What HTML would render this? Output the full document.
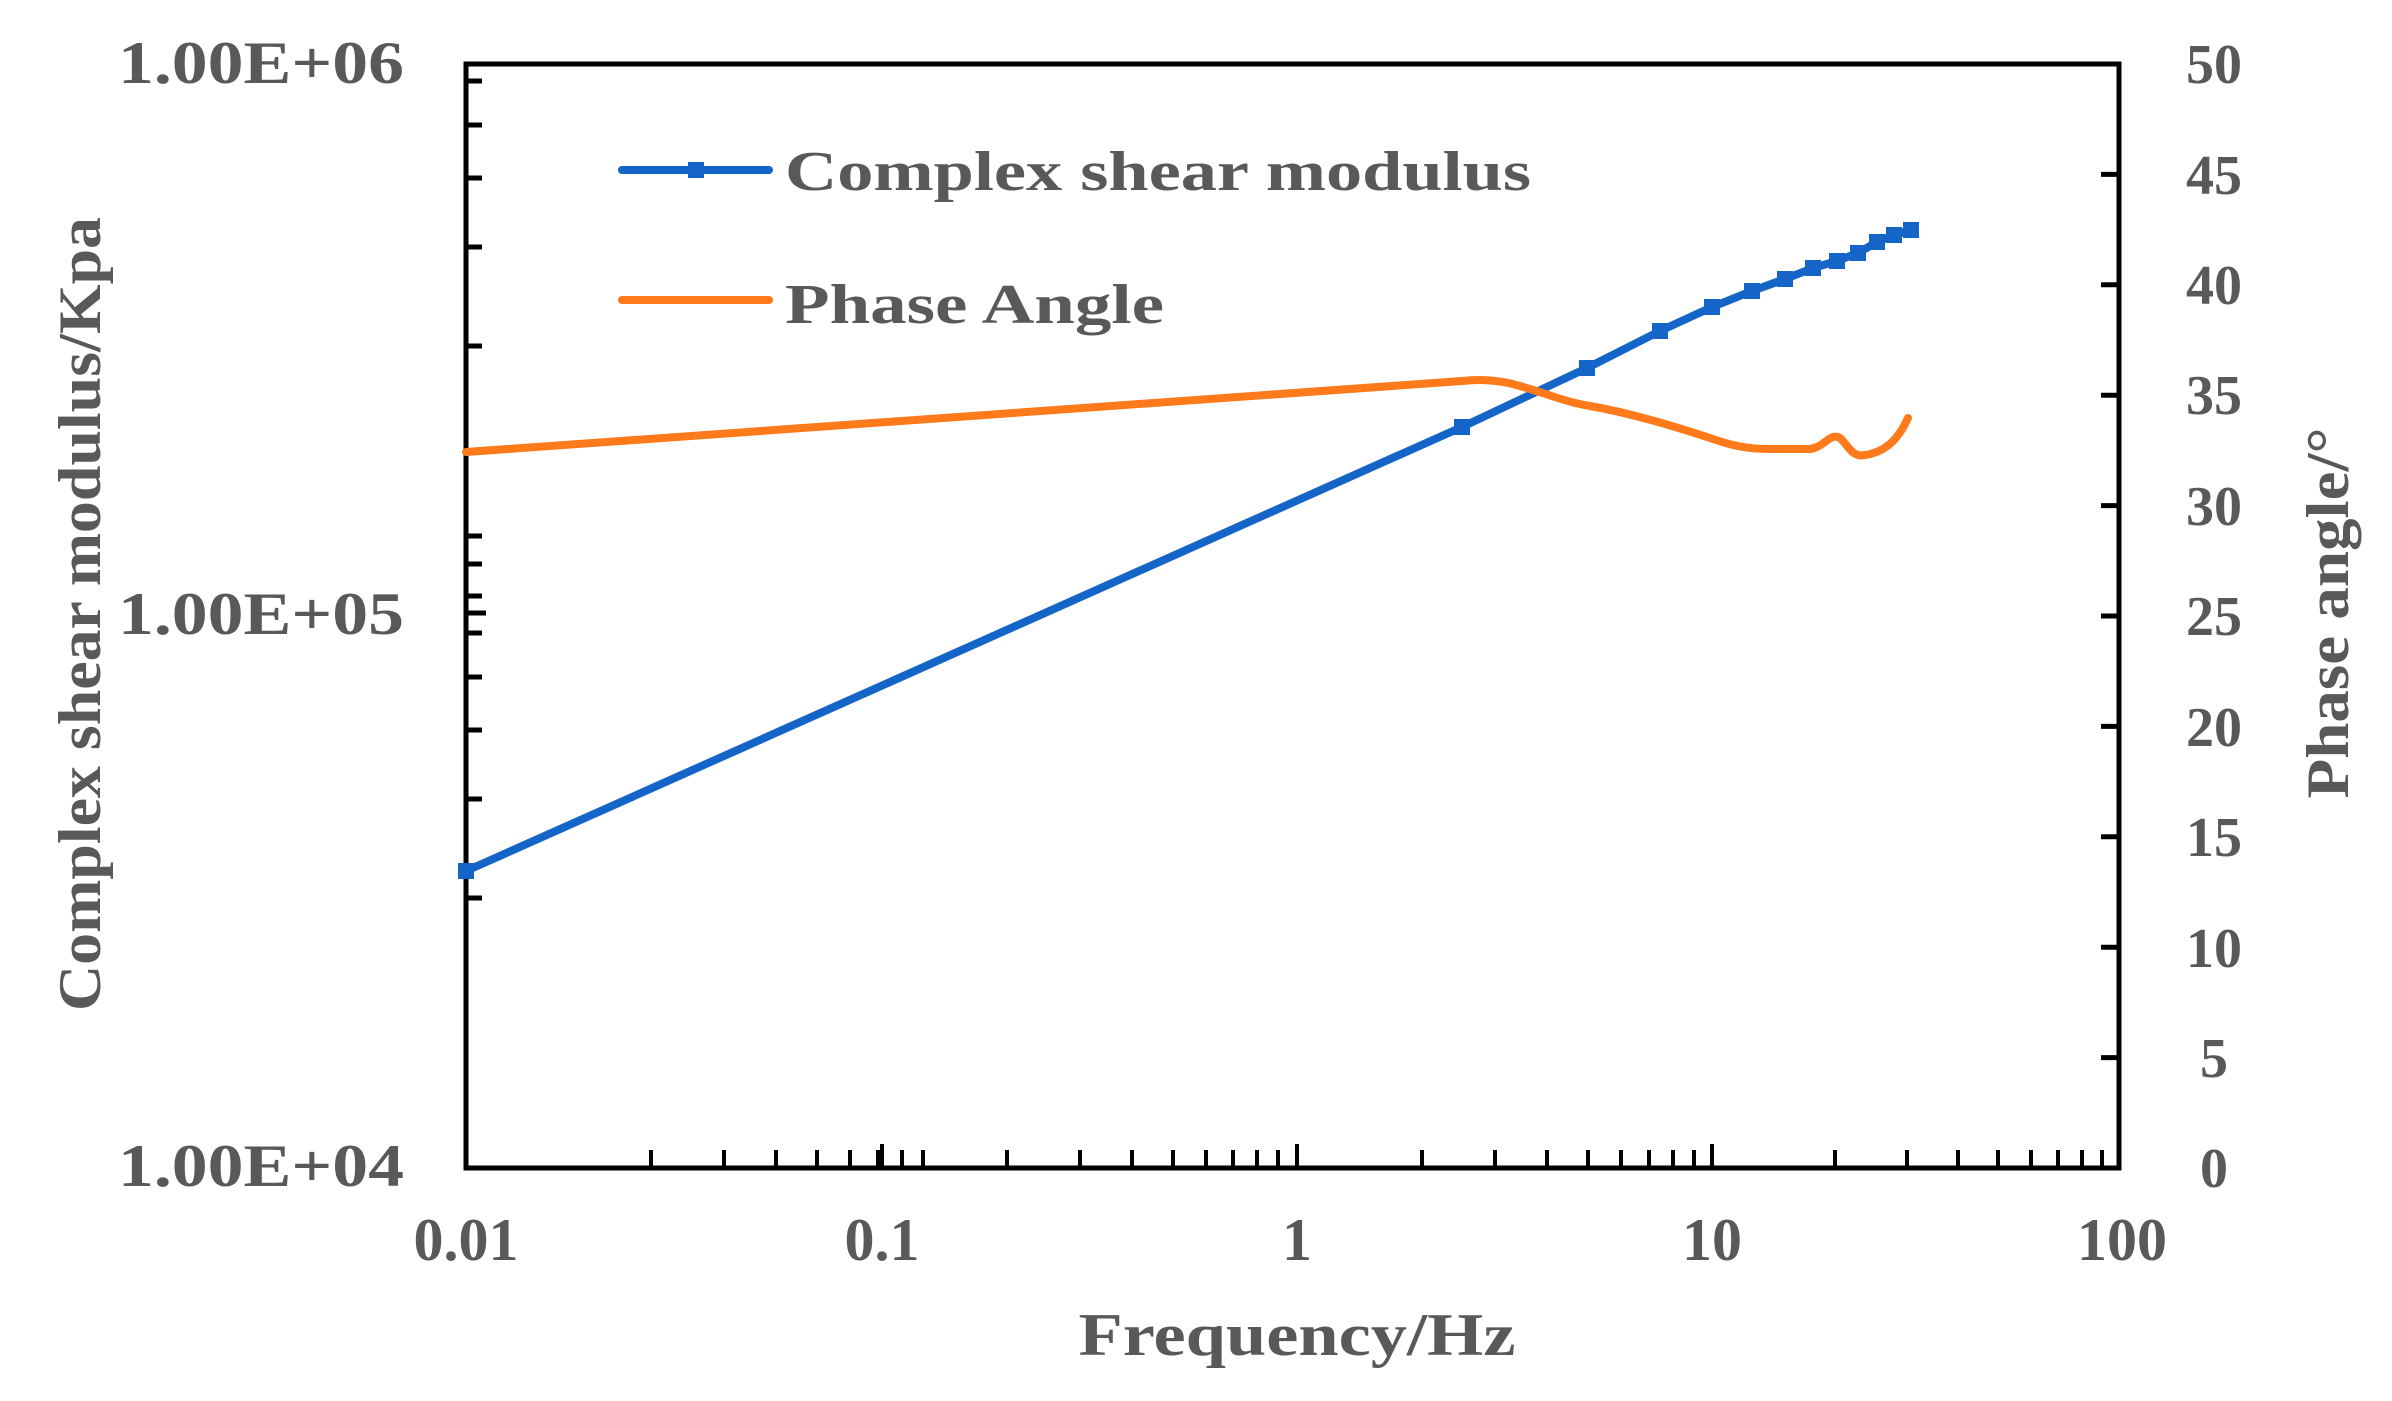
<!DOCTYPE html>
<html><head><meta charset="utf-8"><style>
html,body{margin:0;padding:0;background:#fff;}
svg{display:block;}
text{font-family:"Liberation Serif",serif;font-weight:bold;fill:#595959;}
</style></head><body>
<svg width="2392" height="1401" viewBox="0 0 2392 1401" xmlns="http://www.w3.org/2000/svg">
<g stroke="#000" stroke-width="5" fill="none">
<rect x="466" y="64" width="1653" height="1104"/>
<path d="M466 898h16M466 799h16M466 730h16M466 677h16M466 633h16M466 596h16M466 564h16M466 536h16M466 346h16M466 247h16M466 178h16M466 125h16M466 81h16M466 613h20"/>
<path d="M2119 174.4h-18M2119 284.8h-18M2119 395.2h-18M2119 505.6h-18M2119 616h-18M2119 726.4h-18M2119 836.8h-18M2119 947.2h-18M2119 1057.6h-18"/>
</g>
<polyline fill="none" stroke="#1565C8" stroke-width="8" points="466,871 1462,427 1587,368 1660,331 1712,307 1752,291 1785,279 1813,268 1837,261 1858,253 1877,242 1894,235 1911,230"/>
<g fill="#1565C8">
<rect x="458" y="863" width="16" height="16"/><rect x="1454" y="419" width="16" height="16"/><rect x="1579" y="360" width="16" height="16"/><rect x="1652" y="323" width="16" height="16"/><rect x="1704" y="299" width="16" height="16"/><rect x="1744" y="283" width="16" height="16"/><rect x="1777" y="271" width="16" height="16"/><rect x="1805" y="260" width="16" height="16"/><rect x="1829" y="253" width="16" height="16"/><rect x="1850" y="245" width="16" height="16"/><rect x="1869" y="234" width="16" height="16"/><rect x="1886" y="227" width="16" height="16"/><rect x="1903" y="222" width="16" height="16"/>
</g>
<path fill="none" stroke="#FF7A1A" stroke-width="8" stroke-linejoin="round" stroke-linecap="round" d="M466,452 L1462,381 C1480,379 1500,380 1520,386 C1545,393 1565,402 1590,406 C1630,413 1670,425 1710,438 C1730,445 1745,449 1770,449 L1810,449 C1825,447 1830,432 1840,438 C1848,445 1852,458 1865,455 C1885,452 1898,440 1908,418"/>
<line x1="622" y1="170" x2="769" y2="170" stroke="#1565C8" stroke-width="8" stroke-linecap="round"/>
<rect x="688" y="162" width="16" height="16" fill="#1565C8"/>
<text x="785" y="190" font-size="56" textLength="746" lengthAdjust="spacingAndGlyphs">Complex shear modulus</text>
<line x1="622" y1="300" x2="769" y2="300" stroke="#FF7A1A" stroke-width="8" stroke-linecap="round"/>
<text x="785" y="323" font-size="56" textLength="379" lengthAdjust="spacingAndGlyphs">Phase Angle</text>
<g font-size="60" text-anchor="end">
<text x="404" y="83" textLength="286" lengthAdjust="spacingAndGlyphs">1.00E+06</text>
<text x="404" y="634" textLength="286" lengthAdjust="spacingAndGlyphs">1.00E+05</text>
<text x="404" y="1186" textLength="286" lengthAdjust="spacingAndGlyphs">1.00E+04</text>
</g>
<g font-size="56" text-anchor="middle">
<text x="2214" y="83">50</text><text x="2214" y="194">45</text><text x="2214" y="304">40</text><text x="2214" y="414">35</text><text x="2214" y="525">30</text><text x="2214" y="635">25</text><text x="2214" y="746">20</text><text x="2214" y="856">15</text><text x="2214" y="967">10</text><text x="2214" y="1077">5</text><text x="2214" y="1187">0</text>
</g>
<g font-size="60" text-anchor="middle">
<text x="466" y="1260">0.01</text><text x="882" y="1260">0.1</text><text x="1297" y="1260">1</text><text x="1712" y="1260">10</text><text x="2122" y="1260">100</text>
</g>
<text x="1297" y="1355" font-size="60" text-anchor="middle" textLength="437" lengthAdjust="spacingAndGlyphs">Frequency/Hz</text>
<text transform="translate(100,614) rotate(-90)" font-size="60" text-anchor="middle" textLength="794" lengthAdjust="spacingAndGlyphs">Complex shear modulus/Kpa</text>
<text transform="translate(2348,613) rotate(-90)" font-size="60" text-anchor="middle" textLength="371" lengthAdjust="spacingAndGlyphs">Phase angle/°</text>
<g stroke="#000" stroke-width="4">
<path d="M651,1168v-18M724,1168v-18M776,1168v-18M817,1168v-18M850,1168v-18M878,1168v-18M902,1168v-18M923,1168v-18M882,1168v-24
M1007,1168v-18M1080,1168v-18M1132,1168v-18M1173,1168v-18M1206,1168v-18M1233,1168v-18M1257,1168v-18M1278,1168v-18M1297,1168v-24
M1422,1168v-18M1495,1168v-18M1547,1168v-18M1588,1168v-18M1621,1168v-18M1649,1168v-18M1673,1168v-18M1694,1168v-18M1712,1168v-24
M1835,1168v-18M1907,1168v-18M1958,1168v-18M1998,1168v-18M2031,1168v-18M2058,1168v-18M2082,1168v-18M2102,1168v-18"/>
</g>
</svg>
</body></html>
